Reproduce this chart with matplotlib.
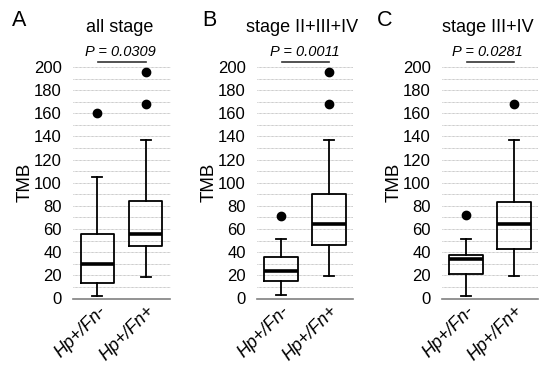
import matplotlib
matplotlib.use("Agg")
import matplotlib.pyplot as plt

plt.rcParams['font.family'] = ['Liberation Sans', 'DejaVu Sans']

groups = ["Hp+/Fn-", "Hp+/Fn+"]
panel_letters = ["A", "B", "C"]
panel_titles = ["all stage", "stage II+III+IV", "stage III+IV"]
p_labels = ["P = 0.0309", "P = 0.0011", "P = 0.0281"]

# box stats per panel: [Hp+/Fn-, Hp+/Fn+]
whislo = [[2.0, 18.3], [2.7, 19.1], [2.3, 19.3]]
q1 = [[13.7, 45.5], [14.8, 46.6], [21.4, 42.9]]
med = [[29.5, 56.0], [23.7, 64.0], [34.5, 64.0]]
q3 = [[55.4, 84.0], [35.7, 90.0], [38.0, 83.2]]
whishi = [[104.6, 137.1], [51.0, 137.0], [51.0, 137.0]]
fliers = [[[160.0], [168.3, 195.6]],
          [[71.4], [168.4, 195.6]],
          [[72.0], [168.3]]]

yticks = list(range(0, 201, 20))
minor_grid = list(range(10, 201, 10))

fig = plt.figure(figsize=(5.5, 3.72), dpi=100)
lefts = [73 / 550, 257 / 550, 442 / 550]
widths = [97 / 550, 96 / 550, 96 / 550]
bottom = (372 - 298.5) / 372
height = (298.5 - 67) / 372

for i in range(3):
    ax = fig.add_axes([lefts[i], bottom, widths[i], height])
    stats = []
    for j in range(2):
        stats.append(dict(whislo=whislo[i][j], q1=q1[i][j], med=med[i][j],
                          q3=q3[i][j], whishi=whishi[i][j], fliers=fliers[i][j]))
    ax.bxp(stats, positions=[1, 2], widths=0.69, showfliers=True,
           boxprops=dict(color='black', linewidth=1.3),
           medianprops=dict(color='black', linewidth=2.6),
           whiskerprops=dict(color='black', linewidth=1.3),
           capprops=dict(color='black', linewidth=1.3),
           capwidths=0.2,
           flierprops=dict(marker='o', markerfacecolor='black',
                           markeredgecolor='black', markersize=6))
    ax.set_xlim(0.5, 2.5)
    ax.set_ylim(0, 200)
    for g in minor_grid:
        ax.axhline(g, color='#a8a8a8', linestyle=(0, (0.8, 0.8)), linewidth=0.6, zorder=0)
    ax.set_yticks(yticks)
    ax.set_yticklabels([str(t) for t in yticks], fontsize=12)
    ax.tick_params(axis='y', length=0, pad=8)
    ax.tick_params(axis='x', length=0, pad=3)
    ax.set_xticks([1, 2])
    ax.set_xticklabels(groups, fontsize=13, style='italic', rotation=45,
                       ha='right', va='top', rotation_mode='anchor')
    for s in ['top', 'right', 'left']:
        ax.spines[s].set_visible(False)
    ax.spines['bottom'].set_color('#808080')
    ax.spines['bottom'].set_linewidth(1.2)
    ax.set_ylabel("TMB", fontsize=13.5, labelpad=0)
    ax.patch.set_alpha(0)
    for l in ax.lines:
        l.set_clip_on(False)

title_x = [120, 302, 488]
p_x = [120, 305, 487]
line_x = [(98, 146), (282, 329), (467, 514)]
letter_x = [19, 209, 385]
for i in range(3):
    fig.text(letter_x[i] / 550, 1 - 21 / 372, panel_letters[i], fontsize=15.5,
             ha='center', va='center')
    fig.text(title_x[i] / 550, 1 - 27 / 372, panel_titles[i], fontsize=13,
             ha='center', va='center')
    fig.text(p_x[i] / 550, 1 - 52 / 372, p_labels[i], fontsize=10.5,
             style='italic', ha='center', va='center')
    fig.add_artist(plt.Line2D([line_x[i][0] / 550, line_x[i][1] / 550],
                              [1 - 61.5 / 372, 1 - 61.5 / 372],
                              color='#333333', linewidth=1.2,
                              transform=fig.transFigure))

fig.savefig("out.png", dpi=100)
